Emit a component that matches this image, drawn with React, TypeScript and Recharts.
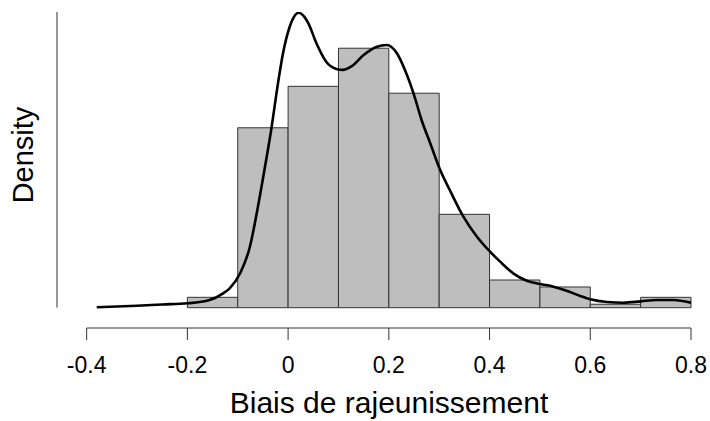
import React from "react";
import { ComposedChart, Line, XAxis, YAxis, ReferenceArea, ReferenceLine, Label } from "recharts";

// Histogram bins (left edges) and densities
const binStarts = [-0.2, -0.1, 0, 0.1, 0.2, 0.3, 0.4, 0.5, 0.6, 0.7];
const binWidth = 0.1;
const densities = [0.0997, 1.728, 2.126, 2.492, 2.06, 0.897, 0.266, 0.199, 0.0332, 0.0997];

// Kernel density estimate
const kdeX = [
  -0.38, -0.3, -0.25, -0.2, -0.156, -0.129, -0.116, -0.095, -0.076, -0.06, -0.046, -0.033, -0.023, -0.01,
  0.003, 0.021, 0.04, 0.056, 0.076, 0.096, 0.109, 0.125, 0.15, 0.175, 0.196, 0.216, 0.232, 0.249, 0.265,
  0.282, 0.302, 0.321, 0.348, 0.375, 0.401, 0.421, 0.447, 0.474, 0.5, 0.527, 0.553, 0.58, 0.6, 0.633,
  0.666, 0.7, 0.732, 0.765, 0.8,
];
const kdeY = [
  0.004, 0.019, 0.031, 0.042, 0.074, 0.138, 0.186, 0.333, 0.583, 0.967, 1.351, 1.726, 2.062, 2.446,
  2.696, 2.833, 2.734, 2.542, 2.36, 2.293, 2.284, 2.315, 2.427, 2.504, 2.523, 2.443, 2.283, 2.059, 1.803,
  1.582, 1.322, 1.13, 0.874, 0.682, 0.538, 0.442, 0.33, 0.259, 0.228, 0.202, 0.163, 0.112, 0.081, 0.055,
  0.048, 0.061, 0.074, 0.074, 0.048,
];

const xTicks = [-0.4, -0.2, 0, 0.2, 0.4, 0.6, 0.8];
const xDomain = [-0.4589, 0.8];
const yDomain = [-0.195, 2.84];
const xLabel = "Biais de rajeunissement";
const yLabel = "Density";

const kdeData = kdeX.map((x, i) => ({ x, d: kdeY[i] }));

const FONT = "'Liberation Sans', Arial, Helvetica, sans-serif";
const AXIS_COLOR = "#333333";

export default function App() {
  return (
    <div style={{ position: "absolute", left: 0, top: 0, background: "#fff" }}>
      <ComposedChart
        width={710}
        height={421}
        data={kdeData}
        margin={{ top: 12, right: 19, bottom: 0, left: 0 }}
      >
        <XAxis
          dataKey="x"
          type="number"
          domain={xDomain}
          allowDataOverflow
          ticks={xTicks}
          interval={0}
          axisLine={false}
          tickLine={{ stroke: AXIS_COLOR, strokeWidth: 1 }}
          tickSize={12}
          tickMargin={17}
          height={93}
          tick={{ fill: "#000", fontSize: 23, fontFamily: FONT }}
          tickFormatter={(v: number) => String(v)}
        >
          <Label
            content={() => (
              <text x={389} y={413} textAnchor="middle" fontSize={30} fontFamily={FONT} fill="#000">
                {xLabel}
              </text>
            )}
          />
        </XAxis>
        <YAxis
          type="number"
          domain={yDomain}
          allowDataOverflow
          width={57}
          axisLine={false}
          tickLine={false}
          tick={false}
        >
          <Label
            content={() => (
              <text
                x={33}
                y={155}
                transform="rotate(-90, 33, 155)"
                textAnchor="middle"
                fontSize={29}
                fontFamily={FONT}
                fill="#000"
              >
                {yLabel}
              </text>
            )}
          />
        </YAxis>
        {binStarts.map((b, i) => (
          <ReferenceArea
            key={i}
            x1={b}
            x2={b + binWidth}
            y1={0}
            y2={densities[i]}
            fill="#bebebe"
            fillOpacity={1}
            stroke={AXIS_COLOR}
            strokeWidth={1}
            strokeOpacity={1}
            ifOverflow="visible"
          />
        ))}
        <ReferenceLine
          segment={[
            { x: xDomain[0], y: 0 },
            { x: xDomain[0], y: yDomain[1] },
          ]}
          stroke={AXIS_COLOR}
          strokeWidth={1}
          ifOverflow="visible"
        />
        <ReferenceLine
          segment={[
            { x: xTicks[0], y: yDomain[0] },
            { x: xTicks[xTicks.length - 1], y: yDomain[0] },
          ]}
          stroke={AXIS_COLOR}
          strokeWidth={1}
          ifOverflow="visible"
        />
        <Line
          type="monotone"
          dataKey="d"
          stroke="#000"
          strokeWidth={2.6}
          dot={false}
          activeDot={false}
          isAnimationActive={false}
        />
      </ComposedChart>
    </div>
  );
}
